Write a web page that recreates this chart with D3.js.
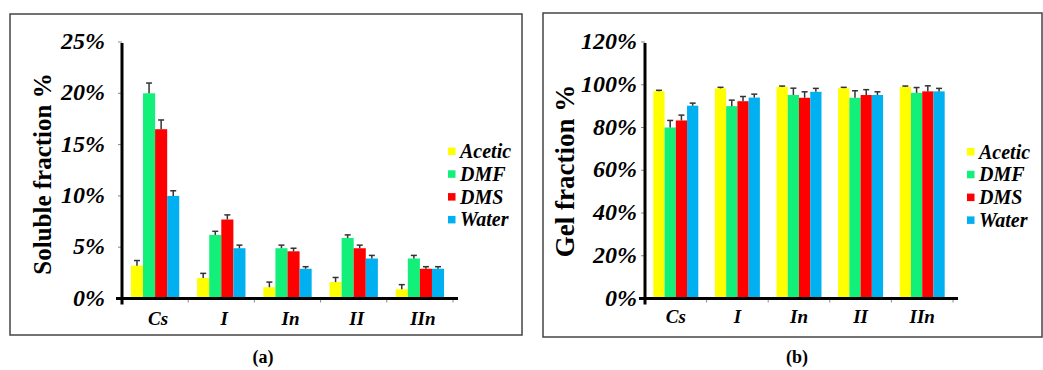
<!DOCTYPE html>
<html><head><meta charset="utf-8">
<script src="https://cdn.jsdelivr.net/npm/d3@7"></script>
<style>
html,body{margin:0;padding:0;background:#fff;}
svg{display:block;}
</style></head>
<body>
<svg id="chart" width="1043" height="370"></svg>
<script>
const FONT = "'Liberation Serif', 'Times New Roman', Tinos, 'DejaVu Serif', serif";
const categories = ["Cs","I","In","II","IIn"];
const seriesNames = ["Acetic","DMF","DMS","Water"];
const seriesColors = ["#FFFF00","#12F07A","#FF0000","#00B0F0"];

// Panel (a): soluble fraction %
const solubleValues = {
  Acetic: [3.2, 2.0, 1.1, 1.6, 0.9],
  DMF:    [20.0, 6.2, 4.9, 5.9, 3.9],
  DMS:    [16.5, 7.7, 4.6, 4.9, 2.9],
  Water:  [10.0, 4.9, 2.9, 3.9, 2.9]
};
const solubleErrors = {
  Acetic: [0.5, 0.45, 0.5, 0.45, 0.45],
  DMF:    [1.0, 0.35, 0.3, 0.3, 0.3],
  DMS:    [0.9, 0.45, 0.3, 0.3, 0.2],
  Water:  [0.5, 0.3, 0.2, 0.3, 0.2]
};
const solubleTicks = [0, 5, 10, 15, 20, 25];

// Panel (b): gel fraction %
const gelValues = {
  Acetic: [97.0, 98.3, 99.0, 98.4, 99.0],
  DMF:    [80.0, 90.0, 95.2, 93.9, 96.2],
  DMS:    [83.3, 92.3, 93.9, 95.2, 96.9],
  Water:  [90.2, 94.0, 96.7, 95.2, 96.9]
};
const gelErrors = {
  Acetic: [0.4, 0.5, 0.4, 0.4, 0.4],
  DMF:    [3.3, 2.8, 3.2, 3.3, 2.5],
  DMS:    [2.5, 2.2, 2.8, 2.5, 2.6],
  Water:  [1.2, 1.6, 1.6, 1.5, 1.4]
};
const gelTicks = [0, 20, 40, 60, 80, 100, 120];

const svg = d3.select("#chart").attr("font-family", FONT);

function panel(cfg) {
  const g = svg.append("g");
  g.append("rect").attr("x", cfg.frame[0]).attr("y", cfg.frame[1])
    .attr("width", cfg.frame[2] - cfg.frame[0]).attr("height", cfg.frame[3] - cfg.frame[1])
    .attr("fill", "none").attr("stroke", "#444").attr("stroke-width", 1.5);

  const x0 = d3.scaleBand().domain(categories).range(cfg.xRange)
    .paddingInner(0.27).paddingOuter(0.135);
  const x1 = d3.scaleBand().domain(seriesNames).range([0, x0.bandwidth()]);
  const y = d3.scaleLinear().domain([0, cfg.yMax]).range(cfg.yRange);
  const color = d3.scaleOrdinal().domain(seriesNames).range(seriesColors);

  const groups = g.selectAll("g.cat").data(categories).join("g")
    .attr("transform", c => `translate(${x0(c)},0)`);
  seriesNames.forEach(s => {
    const cx = x1(s) + x1.bandwidth() / 2;
    groups.append("rect")
      .attr("x", x1(s)).attr("width", x1.bandwidth())
      .attr("y", (c, i) => y(cfg.values[s][i]))
      .attr("height", (c, i) => y(0) - y(cfg.values[s][i]))
      .attr("fill", color(s));
    groups.append("line")
      .attr("x1", cx).attr("x2", cx)
      .attr("y1", (c, i) => y(cfg.values[s][i]))
      .attr("y2", (c, i) => y(cfg.values[s][i] + cfg.errors[s][i]))
      .attr("stroke", "#333").attr("stroke-width", 1.5);
    groups.append("line")
      .attr("x1", cx - 3).attr("x2", cx + 3)
      .attr("y1", (c, i) => y(cfg.values[s][i] + cfg.errors[s][i]))
      .attr("y2", (c, i) => y(cfg.values[s][i] + cfg.errors[s][i]))
      .attr("stroke", "#333").attr("stroke-width", 1.5);
  });

  const ax = cfg.xRange[0], base = y(0);
  g.selectAll("line.yt").data(cfg.ticks).join("line")
    .attr("x1", ax - 4).attr("x2", ax).attr("y1", d => y(d)).attr("y2", d => y(d))
    .attr("stroke", "#888").attr("stroke-width", 1);
  const step = x0.step();
  g.selectAll("line.xt").data(categories).join("line")
    .attr("x1", (c, i) => ax + (i + 1) * step).attr("x2", (c, i) => ax + (i + 1) * step)
    .attr("y1", base).attr("y2", base + 4)
    .attr("stroke", "#888").attr("stroke-width", 1);
  g.append("line").attr("x1", ax).attr("x2", ax)
    .attr("y1", y(cfg.yMax) + 1).attr("y2", base + 6)
    .attr("stroke", "#000").attr("stroke-width", 3);
  g.append("line").attr("x1", ax - 6).attr("x2", cfg.xRange[1] + 5)
    .attr("y1", base).attr("y2", base)
    .attr("stroke", "#000").attr("stroke-width", 3);

  g.selectAll("text.yl").data(cfg.ticks).join("text")
    .attr("x", ax - cfg.labelGap).attr("y", d => y(d) - 1)
    .attr("text-anchor", "end").attr("dominant-baseline", "central")
    .attr("font-size", 24).attr("font-weight", "bold").attr("font-style", "italic")
    .attr("fill", "#000")
    .text(d => d + "%");

  g.selectAll("text.cl").data(categories).join("text")
    .attr("x", c => x0(c) + x0.bandwidth() / 2 + cfg.catShift).attr("y", cfg.catY)
    .attr("text-anchor", "middle").attr("dominant-baseline", "central")
    .attr("font-size", 19).attr("font-weight", "bold").attr("font-style", "italic")
    .text(c => c);

  g.append("text")
    .attr("transform", `translate(${cfg.titleX},${cfg.titleY}) rotate(-90)`)
    .attr("text-anchor", "middle").attr("dominant-baseline", "central")
    .attr("font-size", cfg.titleSize).attr("font-weight", "bold")
    .text(cfg.title);

  const lg = g.selectAll("g.lg").data(seriesNames).join("g")
    .attr("transform", (s, i) => `translate(${cfg.legendX},${cfg.legendY + i * 22.8})`);
  lg.append("rect").attr("x", 0).attr("y", -3.5).attr("width", 7.5).attr("height", 7.5)
    .attr("fill", s => color(s));
  lg.append("text").attr("x", 12).attr("y", 0).attr("dominant-baseline", "central")
    .attr("font-size", 20).attr("font-weight", "bold").attr("font-style", "italic")
    .text(s => s);

  svg.append("text").attr("x", cfg.capX).attr("y", 357)
    .attr("text-anchor", "middle").attr("dominant-baseline", "central")
    .attr("font-size", 18).attr("font-weight", "bold")
    .text(cfg.caption);
}

panel({
  frame: [10, 14, 522, 335],
  xRange: [122, 453], yRange: [298.5, 42], yMax: 25,
  values: solubleValues, errors: solubleErrors, ticks: solubleTicks,
  labelGap: 17, catY: 318, catShift: 3,
  title: "Soluble fraction %", titleX: 42, titleY: 174, titleSize: 25,
  legendX: 448, legendY: 151,
  capX: 263, caption: "(a)"
});
panel({
  frame: [543, 13, 1042, 337],
  xRange: [645, 953], yRange: [298.5, 42], yMax: 120,
  values: gelValues, errors: gelErrors, ticks: gelTicks,
  labelGap: 8, catY: 316, catShift: 0,
  title: "Gel fraction %", titleX: 565, titleY: 171, titleSize: 27,
  legendX: 967, legendY: 151.5,
  capX: 797, caption: "(b)"
});
</script>
</body></html>
